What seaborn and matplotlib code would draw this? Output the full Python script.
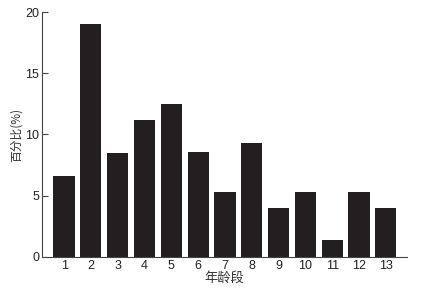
import matplotlib
matplotlib.use("Agg")
import matplotlib.pyplot as plt
import seaborn as sns
import pandas as pd

categories = ["1", "2", "3", "4", "5", "6", "7", "8", "9", "10", "11", "12", "13"]
values = [6.6, 19.0, 8.5, 11.2, 12.5, 8.6, 5.3, 9.3, 4.0, 5.3, 1.4, 5.3, 4.0]
y_ticks = [0, 5, 10, 15, 20]
x_label = "年龄段"
y_label = "百分比(%)"

sns.set_theme(style="ticks")
plt.rcParams["font.family"] = ["Liberation Sans", "Noto Sans CJK SC", "DejaVu Sans"]

df = pd.DataFrame({"cat": categories, "val": values})

fig = plt.figure(figsize=(4.21, 2.93), dpi=100)
ax = fig.add_axes([0.100, 0.123, 0.866, 0.836])
sns.barplot(data=df, x="cat", y="val", order=categories, color="#231f20",
            saturation=1, width=0.79, ax=ax)
for p in ax.patches:
    p.set_edgecolor("none")

ax.set_xlim(-0.82, 12.78)
ax.set_ylim(0, 20)
ax.set_yticks(y_ticks)
ax.set_yticklabels([str(t) for t in y_ticks])
ax.tick_params(axis="y", direction="in", length=4, width=0.8, color="#444444",
               labelsize=9, pad=2, labelcolor="#222222")
ax.tick_params(axis="x", length=0, labelsize=9, pad=2, labelcolor="#222222")

for s in ["top", "right"]:
    ax.spines[s].set_visible(False)
for s in ["left", "bottom"]:
    ax.spines[s].set_color("#444444")
    ax.spines[s].set_linewidth(0.8)

ax.set_xlabel(x_label, fontsize=9.5, family=["Noto Sans CJK SC", "DejaVu Sans"],
              labelpad=0, color="#333333")
ax.set_ylabel(y_label, fontsize=8.5, family=["Noto Sans CJK SC", "DejaVu Sans"],
              labelpad=2, color="#333333")

fig.savefig("out.png", dpi=100)
